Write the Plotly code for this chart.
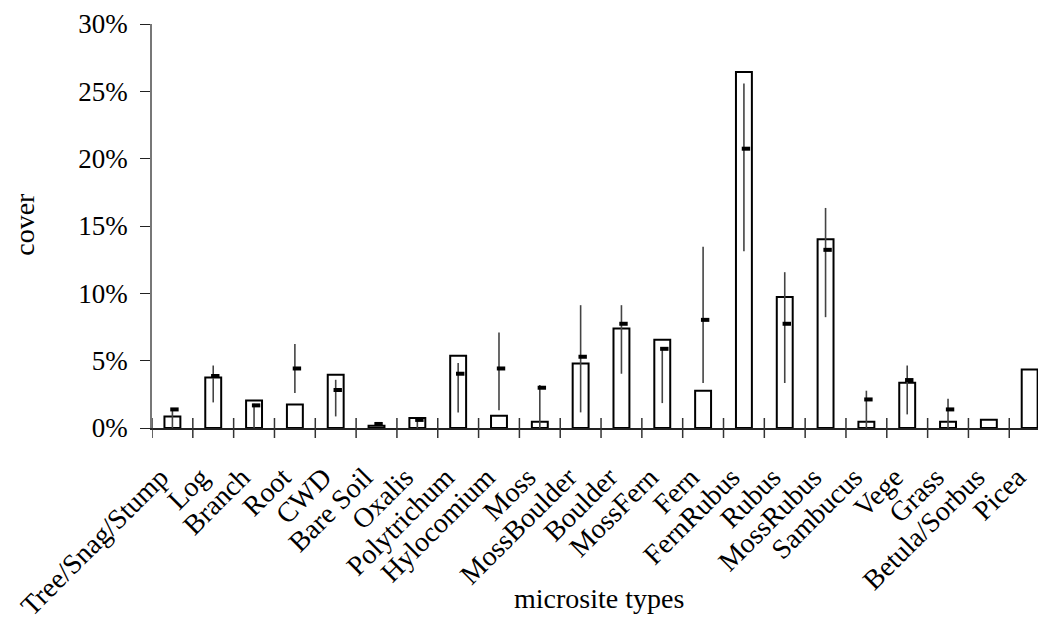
import plotly.graph_objects as go

categories = ["Tree/Snag/Stump", "Log", "Branch", "Root", "CWD", "Bare Soil", "Oxalis",
              "Polytrichum", "Hylocomium", "Moss", "MossBoulder", "Boulder", "MossFern",
              "Fern", "FernRubus", "Rubus", "MossRubus", "Sambucus", "Vege", "Grass",
              "Betula/Sorbus", "Picea"]
bar_cover = [0.86, 3.75, 2.05, 1.75, 3.95, 0.17, 0.74, 5.36, 0.91, 0.47, 4.79, 7.39, 6.55,
             2.77, 26.43, 9.72, 14.02, 0.47, 3.36, 0.47, 0.62, 4.35]
point_cover = [1.38, 3.86, 1.68, 4.42, 2.82, 0.30, 0.60, 4.03, 4.42, 2.99, 5.29, 7.74, 5.88,
               8.03, 20.74, 7.74, 13.23, 2.12, 3.56, 1.38, None, None]
upper_cover = [1.45, 4.64, 1.80, 6.23, 3.58, 0.35, 0.65, 4.82, 7.09, 3.19, 9.12, 9.12, 6.00,
               13.45, 25.59, 11.57, 16.34, 2.77, 4.64, 2.17, None, None]
lower_cover = [0.0, 1.90, 0.0, 2.60, 0.86, 0.20, 0.0, 1.16, 1.31, 0.0, 1.16, 4.03, 1.85,
               3.34, 13.13, 3.34, 8.23, 0.0, 1.01, 0.0, None, None]
y_ticks = [0, 5, 10, 15, 20, 25, 30]
y_ticktext = ["0%", "5%", "10%", "15%", "20%", "25%", "30%"]

FONT = "Liberation Serif, Times New Roman, serif"
n = len(categories)
xs = list(range(n))
LABEL_SHIFT = -0.30

err_plus = [None if p is None else u - p for p, u in zip(point_cover, upper_cover)]
err_minus = [None if p is None else p - l for p, l in zip(point_cover, lower_cover)]

fig = go.Figure()
fig.add_trace(go.Bar(
    x=xs, y=bar_cover, width=0.39,
    marker=dict(color="white", line=dict(color="black", width=2)),
    showlegend=False, hoverinfo="skip",
))
fig.add_trace(go.Scatter(
    x=xs, y=point_cover, mode="markers",
    marker=dict(size=1, color="rgba(0,0,0,0)"),
    error_y=dict(type="data", symmetric=False, array=err_plus, arrayminus=err_minus,
                 width=0, thickness=1.6, color="#444"),
    showlegend=False, hoverinfo="skip", cliponaxis=False,
))
fig.add_trace(go.Scatter(
    x=[x + 0.05 for x in xs], y=point_cover, mode="markers",
    marker=dict(symbol="line-ew", size=6, line=dict(color="black", width=4)),
    showlegend=False, hoverinfo="skip", cliponaxis=False,
))

shapes = []
for k in range(n + 1):
    shapes.append(dict(type="line", xref="x", yref="paper", x0=k - 0.5, x1=k - 0.5,
                       y0=-10 / 404, y1=10 / 404, line=dict(color="#333", width=1.5)))

# page body has an 8px default margin: the figure is sized to compensate
fig.update_layout(
    width=1038, height=614,
    margin=dict(l=144, r=0, t=16, b=194),
    paper_bgcolor="white", plot_bgcolor="white",
    font=dict(family=FONT, size=27, color="black"),
    shapes=shapes,
    xaxis=dict(
        range=[-0.5, 21.40], tickmode="array",
        tickvals=[x + LABEL_SHIFT for x in xs], ticktext=categories,
        tickangle=-45, ticks="outside", ticklen=20, tickcolor="rgba(0,0,0,0)",
        showline=True, linecolor="#222", linewidth=1.5, showgrid=False, zeroline=False,
        tickfont=dict(family=FONT, size=28), automargin=False,
    ),
    yaxis=dict(
        range=[0, 30], tickmode="array", tickvals=y_ticks, ticktext=y_ticktext,
        ticks="outside", ticklen=10, tickcolor="#222", tickwidth=1.2,
        showline=True, linecolor="#777", linewidth=1.6, showgrid=False, zeroline=False,
        tickfont=dict(family=FONT, size=27), automargin=False, ticklabelstandoff=7,
    ),
    annotations=[
        dict(text="cover", xref="paper", yref="paper", x=(25 - 152) / 894, y=0.503,
             textangle=-90, showarrow=False, font=dict(family=FONT, size=28),
             xanchor="center", yanchor="middle"),
        dict(text="microsite types", xref="paper", yref="paper", x=0.5, y=(428 - 598) / 404,
             showarrow=False, font=dict(family=FONT, size=28),
             xanchor="center", yanchor="middle"),
    ],
)

fig.write_html("out.html")
